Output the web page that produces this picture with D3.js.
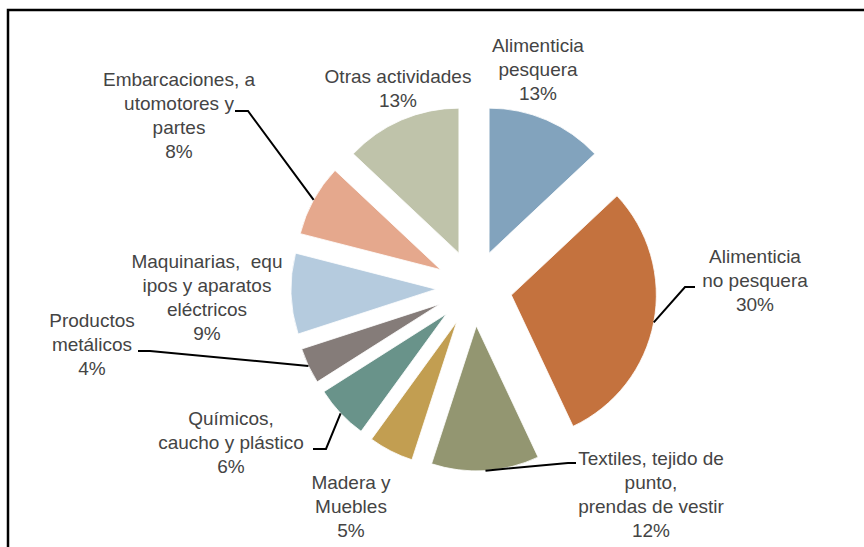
<!DOCTYPE html>
<html>
<head>
<meta charset="utf-8">
<script src="https://cdn.jsdelivr.net/npm/d3@7"></script>
<style>
  body { margin: 0; background: #fff; }
  svg text { font-family: "Liberation Sans", Arial, sans-serif; font-size: 19px; fill: #444; white-space: pre; }
</style>
</head>
<body>
<svg id="chart"></svg>
<script>
// sectors, clockwise from 12 o'clock
var categories = [
    "Alimenticia pesquera",
    "Alimenticia no pesquera",
    "Textiles, tejido de punto, prendas de vestir",
    "Madera y Muebles",
    "Químicos, caucho y plástico",
    "Productos metálicos",
    "Maquinarias, equipos y aparatos eléctricos",
    "Embarcaciones, automotores y partes",
    "Otras actividades"
];
var shares = [13, 30, 12, 5, 6, 4, 9, 8, 13];
// label text as it is broken in the picture (percent line added from shares)
var labelLines = [
    ["Alimenticia", "pesquera"],
    ["Alimenticia", "no pesquera"],
    ["Textiles, tejido de", "punto,", "prendas de vestir"],
    ["Madera y", "Muebles"],
    ["Químicos,", "caucho y plástico"],
    ["Productos", "metálicos"],
    ["Maquinarias,  equ", "ipos y aparatos", "eléctricos"],
    ["Embarcaciones, a", "utomotores y", "partes"],
    ["Otras actividades"]
];
var colors = ["#82a3bd", "#c4723e", "#939671", "#c29e51", "#69938a",
              "#857c79", "#b5cbde", "#e5a88d", "#bfc3aa"];

// layout only
var width = 864, height = 547;
var cx = 474, cy = 288, radius = 145, explode = 38;
var lineH = 24;
// label anchor: center x, first baseline
var labelPos = [[538, 52], [755, 263], [651, 465], [351, 489], [231, 425],
                [92, 327], [207, 268], [179, 86], [398, 83]];
// leader start (at text) and elbow, null = no leader
var leaderPts = [null, [[695, 287], [685, 287]], [[576, 463], [568, 463]], null,
                 [[313, 449], [326, 449]], [[138, 351], [150, 351]], null,
                 [[235, 111], [248, 111]], null];

var svg = d3.select("#chart").attr("width", width).attr("height", height);

// frame (only top and left edges are inside the picture)
svg.append("path")
    .attr("d", "M8,547 L8,10 L864,10")
    .attr("fill", "none")
    .attr("stroke", "#000")
    .attr("stroke-width", 2.5);

var pie = d3.pie().sort(null).value(function(d) { return d; });
var arcs = pie(shares);
var arc = d3.arc().innerRadius(0).outerRadius(radius);

function offset(d) {
    var a = (d.startAngle + d.endAngle) / 2;
    return [explode * Math.sin(a), -explode * Math.cos(a)];
}

var g = svg.append("g").attr("transform", "translate(" + cx + "," + cy + ")");

g.selectAll("path.slice")
    .data(arcs)
    .enter()
    .append("path")
    .attr("class", "slice")
    .attr("transform", function(d) { var o = offset(d); return "translate(" + o[0] + "," + o[1] + ")"; })
    .attr("d", arc)
    .attr("fill", function(d, i) { return colors[i]; })
    .attr("stroke", "#fff")
    .attr("stroke-width", 0.8);

// leader lines to the middle of each slice's arc
arcs.forEach(function(d, i) {
    if (!leaderPts[i]) return;
    var o = offset(d);
    var a = (d.startAngle + d.endAngle) / 2;
    var end = [cx + o[0] + radius * Math.sin(a), cy + o[1] - radius * Math.cos(a)];
    var pts = leaderPts[i].concat([end]);
    svg.append("path")
        .attr("d", d3.line()(pts))
        .attr("fill", "none")
        .attr("stroke", "#000")
        .attr("stroke-width", 2);
});

// labels
arcs.forEach(function(d, i) {
    var lines = labelLines[i].concat([shares[i] + "%"]);
    var t = svg.append("text")
        .attr("text-anchor", "middle")
        .attr("x", labelPos[i][0])
        .attr("y", labelPos[i][1]);
    lines.forEach(function(s, j) {
        t.append("tspan")
            .attr("x", labelPos[i][0])
            .attr("dy", j === 0 ? 0 : lineH)
            .text(s);
    });
});
</script>
</body>
</html>
